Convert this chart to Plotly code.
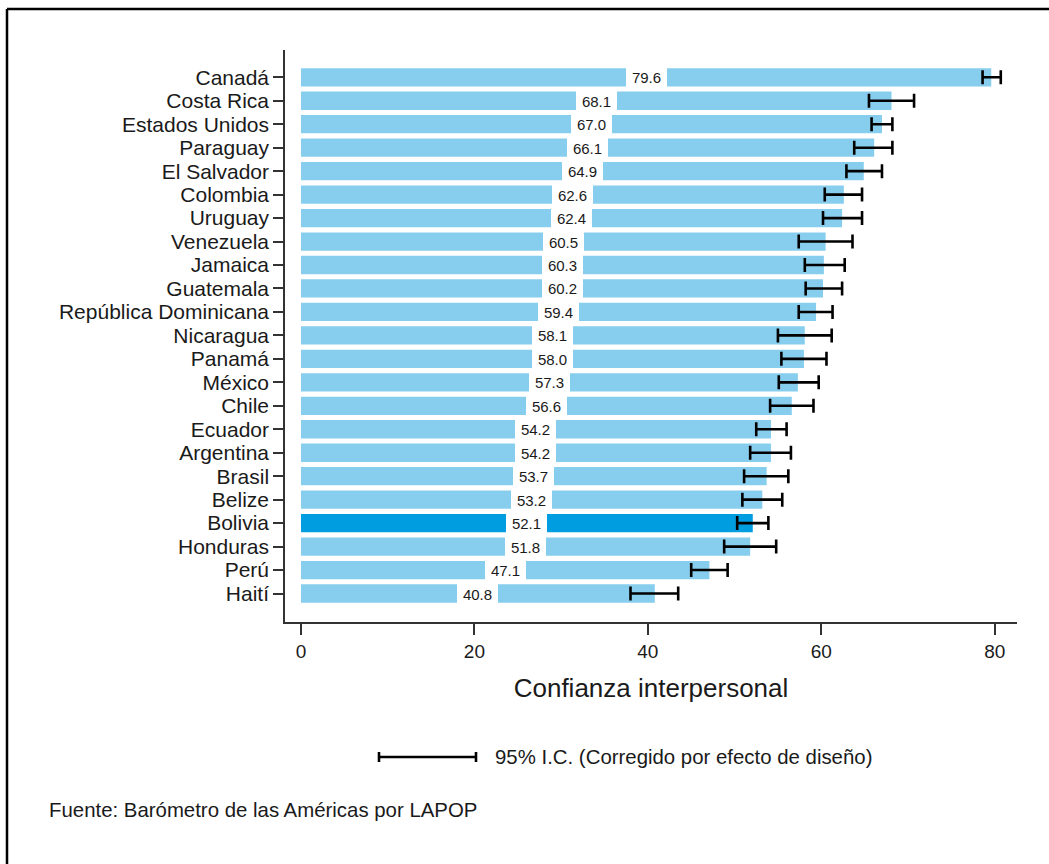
import plotly.graph_objects as go

# ---- data (top to bottom as in the reference) ----
countries = ["Canadá", "Costa Rica", "Estados Unidos", "Paraguay", "El Salvador",
             "Colombia", "Uruguay", "Venezuela", "Jamaica", "Guatemala",
             "República Dominicana", "Nicaragua", "Panamá", "México", "Chile",
             "Ecuador", "Argentina", "Brasil", "Belize", "Bolivia", "Honduras",
             "Perú", "Haití"]
values = [79.6, 68.1, 67.0, 66.1, 64.9, 62.6, 62.4, 60.5, 60.3, 60.2, 59.4, 58.1,
          58.0, 57.3, 56.6, 54.2, 54.2, 53.7, 53.2, 52.1, 51.8, 47.1, 40.8]
ci_low = [78.6, 65.5, 65.8, 63.8, 62.9, 60.4, 60.2, 57.4, 58.1, 58.2, 57.4, 55.0,
          55.4, 55.1, 54.1, 52.5, 51.8, 51.1, 50.9, 50.3, 48.8, 45.0, 38.0]
ci_high = [80.7, 70.7, 68.2, 68.2, 67.0, 64.7, 64.7, 63.6, 62.7, 62.4, 61.3, 61.2,
           60.6, 59.7, 59.1, 56.0, 56.5, 56.2, 55.5, 53.9, 54.8, 49.2, 43.5]
highlight = "Bolivia"

x_title = "Confianza interpersonal"
legend_text = "95% I.C. (Corregido por efecto de diseño)"
source_text = "Fuente: Barómetro de las Américas por LAPOP"
x_ticks = [0, 20, 40, 60, 80]

LIGHT = "#87CEEE"
DARK = "#009DE0"
FONT = "Liberation Sans, Arial, sans-serif"

# bottom-to-top order for plotting
cats = countries[::-1]
vals = values[::-1]
lo = ci_low[::-1]
hi = ci_high[::-1]
colors = [DARK if c == highlight else LIGHT for c in cats]

W, H = 1049, 864
L, R, T, B = 285, 1017, 50, 622


def px_x(p):
    return (p - L) / (R - L)


def px_y(p):
    return (B - p) / (B - T)


fig = go.Figure()
fig.add_trace(go.Bar(
    x=vals, y=cats, orientation="h",
    marker=dict(color=colors, line=dict(width=0)),
    width=0.78,
    error_x=dict(type="data", symmetric=False,
                 array=[h - v for h, v in zip(hi, vals)],
                 arrayminus=[v - l for v, l in zip(vals, lo)],
                 color="black", thickness=2.6, width=7),
    hoverinfo="skip",
))

annotations = []
for c, v in zip(cats, vals):
    annotations.append(dict(
        x=v / 2, y=c, xref="x", yref="y", text=f"{v:.1f}", showarrow=False,
        font=dict(family=FONT, size=15, color="#1a1a1a"),
        bgcolor="white", width=37, height=18, borderpad=2, borderwidth=0,
        xanchor="center", yanchor="middle",
    ))

# legend text and source
annotations.append(dict(x=px_x(493), y=px_y(757), xref="paper", yref="paper",
                        text=legend_text, showarrow=False, xanchor="left",
                        yanchor="middle", font=dict(family=FONT, size=20.4, color="#1a1a1a")))
annotations.append(dict(x=px_x(47), y=px_y(810), xref="paper", yref="paper",
                        text=source_text, showarrow=False, xanchor="left",
                        yanchor="middle", font=dict(family=FONT, size=20.4, color="#1a1a1a")))

shapes = [
    # legend CI symbol
    dict(type="line", xref="paper", yref="paper", x0=px_x(379), x1=px_x(476),
         y0=px_y(757), y1=px_y(757), line=dict(color="black", width=2.6)),
    dict(type="line", xref="paper", yref="paper", x0=px_x(379), x1=px_x(379),
         y0=px_y(752), y1=px_y(762), line=dict(color="black", width=2.6)),
    dict(type="line", xref="paper", yref="paper", x0=px_x(476), x1=px_x(476),
         y0=px_y(752), y1=px_y(762), line=dict(color="black", width=2.6)),
    # outer frame (top and left edges)
    dict(type="line", xref="paper", yref="paper", x0=px_x(7), x1=px_x(W + 5),
         y0=px_y(9), y1=px_y(9), line=dict(color="black", width=2.5)),
    dict(type="line", xref="paper", yref="paper", x0=px_x(7), x1=px_x(7),
         y0=px_y(9), y1=px_y(H + 5), line=dict(color="black", width=2.5)),
]

fig.update_layout(
    width=W, height=H, autosize=False,
    margin=dict(l=L, r=W - R, t=T, b=H - B, pad=0),
    paper_bgcolor="white", plot_bgcolor="white",
    showlegend=False,
    font=dict(family=FONT, color="#1a1a1a"),
    annotations=annotations,
    shapes=shapes,
)
fig.update_xaxes(
    range=[-1.843, 82.57], tickvals=x_ticks, ticktext=[str(t) for t in x_ticks],
    showgrid=False, zeroline=False, showline=True, linecolor="#333333", linewidth=1.5,
    ticks="outside", ticklen=11, tickwidth=1.5, tickcolor="#333333",
    tickfont=dict(family=FONT, size=19, color="#1a1a1a"),
    title=dict(text=x_title, font=dict(family=FONT, size=26, color="#1a1a1a"), standoff=18),
)
fig.update_yaxes(
    type="category", categoryorder="array", categoryarray=cats,
    tickmode="array", tickvals=cats, ticktext=cats,
    range=[-1.214, 23.163],
    showgrid=False, zeroline=False, showline=True, linecolor="#333333", linewidth=1.5,
    ticks="outside", ticklen=10, tickwidth=1.5, tickcolor="#333333",
    tickfont=dict(family=FONT, size=21, color="#1a1a1a"),
)

fig.write_html("out.html", config={"displayModeBar": False},
               post_script="document.body.style.margin='0';")
